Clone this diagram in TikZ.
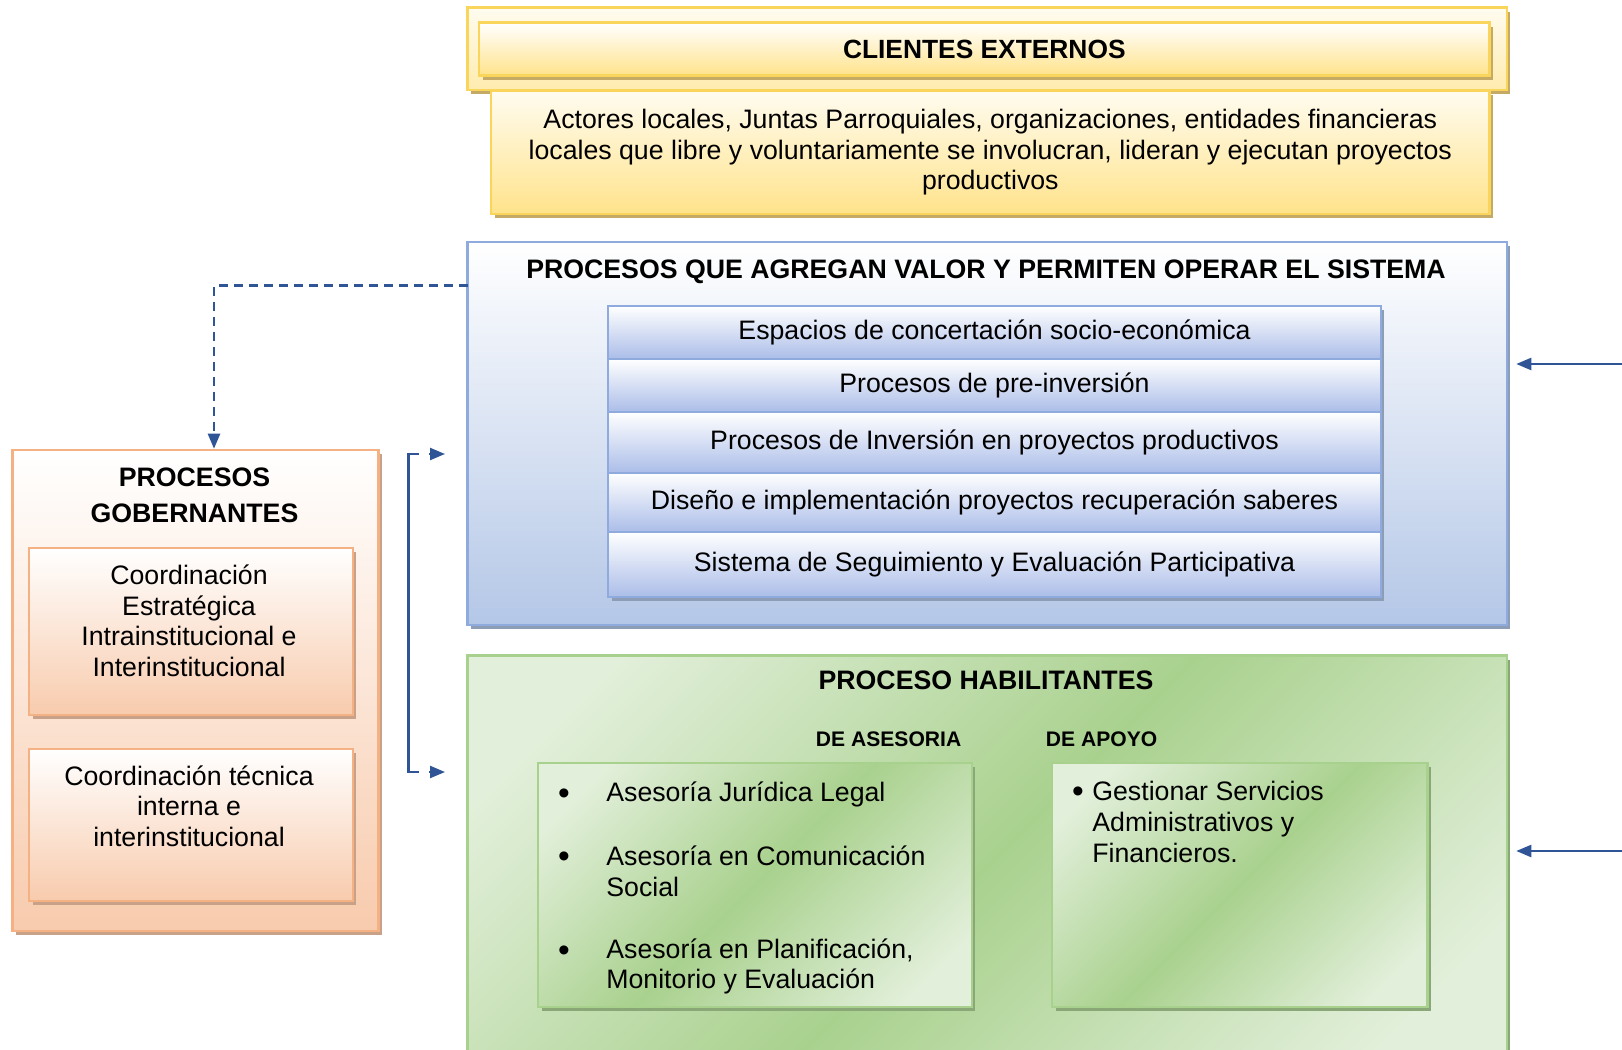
\documentclass[tikz,border=0pt]{standalone}
\usepackage{fontspec}
\setmainfont{Liberation Sans}
\usetikzlibrary{positioning,arrows.meta,shadows}

\definecolor{amarillo}{HTML}{FFE38B}
\definecolor{amarilloclaro}{HTML}{FFFCF0}
\definecolor{amarilloborde}{HTML}{F9D55B}
\definecolor{amarillosombra}{HTML}{C4AA64}
\definecolor{azul}{HTML}{B4C7E7}
\definecolor{azulborde}{HTML}{8FAADC}
\definecolor{azulsombra}{HTML}{8C9DB5}
\definecolor{verdeclaro}{HTML}{E2EFDA}
\definecolor{verde}{HTML}{A9D18E}
\definecolor{verdesombra}{HTML}{8AA877}
\definecolor{naranja}{HTML}{F8CBAD}
\definecolor{naranjaborde}{HTML}{F4B183}
\definecolor{naranjasombra}{HTML}{C9A088}
\definecolor{flecha}{HTML}{2F5597}

\pgfdeclarehorizontalshading{franjaverde}{100bp}{color(0bp)=(verdeclaro); color(22bp)=(verdeclaro); color(50bp)=(verde); color(78bp)=(verdeclaro); color(100bp)=(verdeclaro)}

\tikzset{
  texto/.style={font=\fontsize{15.2}{17.4}\selectfont, align=center, inner sep=0pt},
  bala/.style={font=\fontsize{19}{19}\selectfont, inner sep=0pt},
  titulo/.style={font=\fontsize{15.2}{20.4}\selectfont\bfseries, align=center, inner sep=0pt},
  subtitulo/.style={font=\fontsize{12}{14}\selectfont\bfseries, inner sep=0pt},
  cajaamarilla/.style={draw=amarilloborde, line width=1.5pt, top color=amarilloclaro, bottom color=amarillo!70,
    drop shadow={shadow xshift=2pt, shadow yshift=-2.5pt, fill=amarillosombra, opacity=1}},
  barraamarilla/.style={cajaamarilla, texto, top color=white, bottom color=amarillo},
  cajaazul/.style={draw=azulborde, line width=1.5pt, top color=white, bottom color=azul,
    drop shadow={shadow xshift=2pt, shadow yshift=-2.5pt, fill=azulsombra, opacity=1}},
  fila/.style={cajaazul, texto, line width=1.2pt, outer sep=0pt, minimum width=15.46cm, top color=white, bottom color=azul!95!blue},
  cajaverde/.style={draw=verde, line width=1.5pt, shading=franjaverde, shading angle=-45,
    drop shadow={shadow xshift=2pt, shadow yshift=-2.5pt, fill=verdesombra, opacity=1}},
  cajanaranja/.style={draw=naranjaborde, line width=1.5pt, top color=white, bottom color=naranja,
    drop shadow={shadow xshift=2pt, shadow yshift=-2.5pt, fill=naranjasombra, opacity=1}},
  conector/.style={draw=flecha, line width=1.3pt},
  flechita/.style={conector, -{Triangle[length=0.3cm,width=0.24cm]}},
  punteada/.style={flechita, dash pattern=on 0.18cm off 0.12cm}
}

\begin{document}
\begin{tikzpicture}[x=0.02cm,y=-0.02cm]
\useasboundingbox[fill=white] (0,0) rectangle (1622,1050);

% clientes externos
\node[cajaamarilla, minimum width=20.79cm, minimum height=1.656cm] (externos) at (987.3,48.6) {};
\node[barraamarilla, minimum width=20.21cm, minimum height=1.054cm, font=\fontsize{15}{18}\selectfont\bfseries] (clientes) at (984.3,49.15) {CLIENTES EXTERNOS};
\node[barraamarilla, top color=amarilloclaro, minimum width=19.97cm, minimum height=2.46cm] (actores) at (990.3,152.5)
  {Actores locales, Juntas Parroquiales, organizaciones, entidades financieras\\locales que libre y voluntariamente se involucran, lideran y ejecutan proyectos\\productivos};

% procesos que agregan valor
\node[cajaazul, minimum width=20.79cm, minimum height=7.66cm] (valor) at (987.3,433.5) {};
\node[titulo] (valortit) at (986,272) {PROCESOS QUE AGREGAN VALOR Y PERMITEN OPERAR EL SISTEMA};
\node[fila, minimum height=1.06cm] (fila1) at (994.5,332.5) {Espacios de concertación socio-económica};
\node[fila, minimum height=1.06cm, below=0pt of fila1] (fila2) {Procesos de pre-inversión};
\node[fila, minimum height=1.22cm, below=0pt of fila2] (fila3) {Procesos de Inversión en proyectos productivos};
\node[fila, minimum height=1.18cm, below=0pt of fila3] (fila4) {Diseño e implementación proyectos recuperación saberes};
\node[fila, minimum height=1.3cm, below=0pt of fila4] (fila5) {Sistema de Seguimiento y Evaluación Participativa};

% procesos habilitantes
\node[cajaverde, minimum width=20.79cm, minimum height=8.4cm, anchor=north] (habil) at (987.3,654) {};
\node[titulo] (habiltit) at (986,680) {PROCESO HABILITANTES};
\node[subtitulo] (asesoriatit) at (888.6,739.6) {DE ASESORIA};
\node[subtitulo] (apoyotit) at (1101.6,739.6) {DE APOYO};
\node[cajaverde, line width=1.2pt, minimum width=8.68cm, minimum height=4.88cm] (asesoria) at (755,885) {};
\node[cajaverde, line width=1.2pt, minimum width=7.51cm, minimum height=4.88cm] (apoyo) at (1239.75,885) {};
\node[bala] (bala1) at (564,797) {\textbullet};
\node[bala] (bala2) at (564,860) {\textbullet};
\node[bala] (bala3) at (564,954) {\textbullet};
\node[texto, align=left, anchor=west] (item1) at (606,794) {Asesoría Jurídica Legal};
\node[texto, align=left, anchor=west] (item2) at (606,871.5) {Asesoría en Comunicación\\Social};
\node[texto, align=left, anchor=west] (item3) at (606,966.6) {Asesoría en Planificación,\\Monitorio y Evaluación};
\node[bala] (bala4) at (1078,795) {\textbullet};
\node[texto, align=left, anchor=west, font=\fontsize{15.2}{17.8}\selectfont] (item4) at (1092,822) {Gestionar Servicios\\Administrativos y\\Financieros.};

% procesos gobernantes
\node[cajanaranja, minimum width=7.324cm, minimum height=9.62cm] (gob) at (195.5,690.5) {};
\node[titulo] (gobtit) at (194.5,495) {PROCESOS\\GOBERNANTES};
\node[cajanaranja, line width=1.2pt, minimum width=6.474cm, minimum height=3.34cm] (coord1) at (190.85,631.5) {};
\node[texto] (coord1txt) at (189,621) {Coordinación\\Estratégica\\Intrainstitucional e\\Interinstitucional};
\node[cajanaranja, line width=1.2pt, minimum width=6.474cm, minimum height=3.04cm] (coord2) at (190.85,825) {};
\node[texto] (coord2txt) at (189,806) {Coordinación técnica\\interna e\\interinstitucional};

% conectores
\coordinate (salida) at (467.6,285.5);
\draw[punteada] (salida) -| ([xshift=0.37cm]gob.north);

\coordinate (llaveA) at (419,454);
\coordinate (llaveB) at (419,772);
\draw[conector] (llaveA) -- ++(-10.4,0) |- (llaveB);
\coordinate (inicioA) at (429,454);
\coordinate (puntaA) at (445,454);
\coordinate (inicioB) at (429,772);
\coordinate (puntaB) at (445,772);
\draw[flechita] (inicioA) -- (puntaA);
\draw[flechita] (inicioB) -- (puntaB);

\coordinate (derechaA) at (1622,364);
\coordinate (derechaB) at (1622,851);
\draw[flechita, shorten >=0.16cm] (derechaA) -- (valor.east |- derechaA);
\draw[flechita, shorten >=0.16cm] (derechaB) -- (habil.east |- derechaB);
\end{tikzpicture}
\end{document}
